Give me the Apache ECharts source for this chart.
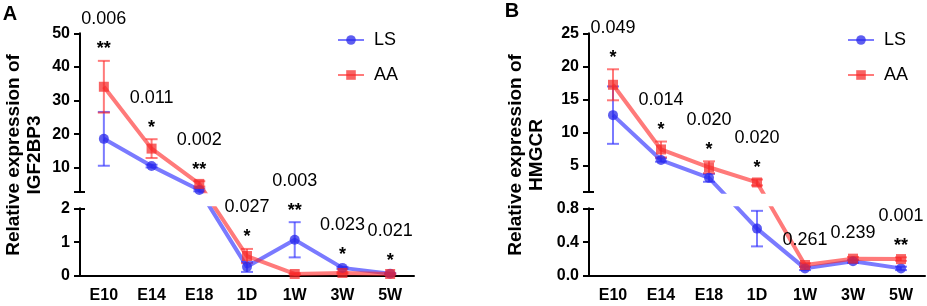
<!DOCTYPE html>
<html>
<head>
<meta charset="utf-8">
<script src="https://cdn.jsdelivr.net/npm/echarts@6/dist/echarts.min.js"></script>
<style>
  html, body { margin: 0; padding: 0; background: #fff; }
  #chart { width: 927px; height: 306px; }
</style>
</head>
<body>
<div id="chart"></div>
<script>
const categories = ['E10', 'E14', 'E18', '1D', '1W', '3W', '5W'];

// Panel A - IGF2BP3
const lsA = [18.6, 10.5, 3.4, 0.27, 1.07, 0.24, 0.07];
const lsAErr = [8.0, 0.4, 0.4, 0.15, 0.52, 0.03, 0.02];
const aaA = [34.1, 15.7, 5.2, 0.59, 0.06, 0.09, 0.06];
const aaAErr = [7.7, 2.8, 0.8, 0.21, 0.02, 0.02, 0.02];
const pA = ['0.006', '0.011', '0.002', '0.027', '0.003', '0.023', '0.021'];
const starsA = ['**', '*', '**', '*', '**', '*', '*'];
const ticksAUpper = [10, 20, 30, 40, 50];
const ticksALower = [0, 1, 2];

// Panel B - HMGCR
const lsB = [12.6, 5.8, 3.1, 0.56, 0.09, 0.175, 0.09];
const lsBErr = [4.35, 0.25, 0.6, 0.21, 0.02, 0.02, 0.02];
const aaB = [17.2, 7.4, 4.7, 2.4, 0.13, 0.205, 0.2];
const aaBErr = [2.35, 1.2, 0.9, 0.45, 0.02, 0.02, 0.02];
const pB = ['0.049', '0.014', '0.020', '0.020', '0.261', '0.239', '0.001'];
const starsB = ['*', '*', '*', '*', '', '', '**'];
const ticksBUpper = [5, 10, 15, 20, 25];
const ticksBLower = [0, 0.4, 0.8];

const FONT = "'Liberation Sans', Arial, sans-serif";
const BLUE_LINE = 'rgba(40,40,255,0.62)';
const BLUE_DOT = 'rgba(40,40,235,0.75)';
const RED_LINE = 'rgba(255,40,40,0.62)';
const RED_DOT = 'rgba(245,40,40,0.72)';

const option = {
  animation: false,
  grid: [], xAxis: [], yAxis: [], series: [], legend: [], graphic: []
};

function errRender(color) {
  return function (params, api) {
    const x = api.value(0), m = api.value(1), e = api.value(2);
    const top = api.coord([x, m + e]);
    const bot = api.coord([x, m - e]);
    const hw = 6;
    const st = { stroke: color, lineWidth: 2 };
    return {
      type: 'group',
      children: [
        { type: 'line', shape: { x1: top[0], y1: top[1], x2: bot[0], y2: bot[1] }, style: st },
        { type: 'line', shape: { x1: top[0] - hw, y1: top[1], x2: top[0] + hw, y2: top[1] }, style: st },
        { type: 'line', shape: { x1: bot[0] - hw, y1: bot[1], x2: bot[0] + hw, y2: bot[1] }, style: st }
      ]
    };
  };
}

function addPanel(p) {
  const gUp = option.grid.length;
  const gLo = gUp + 1;
  option.grid.push({ left: p.left, top: p.upTop, width: p.width, height: p.upBottom - p.upTop });
  option.grid.push({ left: p.left, top: p.loTop, width: p.width, height: p.loBottom - p.loTop });

  const xUp = option.xAxis.length;
  option.xAxis.push({ type: 'category', gridIndex: gUp, data: categories, show: false });
  option.xAxis.push({
    type: 'category', gridIndex: gLo, data: categories,
    axisLine: { lineStyle: { color: '#000', width: 2 } },
    axisTick: { alignWithLabel: true, length: 7, lineStyle: { color: '#000', width: 2 } },
    axisLabel: { color: '#000', fontSize: 16, fontWeight: 'bold', fontFamily: FONT, margin: 12 }
  });

  const yUp = option.yAxis.length;
  const mainY = (grid, min, max, labels, ticks) => ({
    type: 'value', gridIndex: grid, min: min, max: max,
    axisLine: { show: true, lineStyle: { color: '#000', width: 2 } },
    axisTick: { show: true, length: 6, customValues: ticks, lineStyle: { color: '#000', width: 2 } },
    axisLabel: { color: '#000', fontSize: 16, fontWeight: 'bold', fontFamily: FONT, margin: 10,
      customValues: labels, formatter: p.fmt },
    splitLine: { show: false }
  });
  const capY = (grid, min, max, ticks) => ({
    type: 'value', gridIndex: grid, min: min, max: max, position: 'left',
    axisLine: { show: false },
    axisTick: { show: true, inside: true, length: 5, customValues: ticks, lineStyle: { color: '#000', width: 2 } },
    axisLabel: { show: false },
    splitLine: { show: false }
  });
  option.yAxis.push(mainY(gUp, p.upMin, p.upMax, p.upTicks, [p.upMin].concat(p.upTicks)));
  option.yAxis.push(mainY(gLo, 0, p.loMax, p.loTicks, p.loTicks));
  option.yAxis.push(capY(gUp, p.upMin, p.upMax, [p.upMin]));
  option.yAxis.push(capY(gLo, 0, p.loMax, [p.loMax]));

  // broken axis: map a value to its screen row, then back into either segment's scale
  const upH = p.upBottom - p.upTop, loH = p.loBottom - p.loTop;
  const rowOf = v => v > p.loMax
    ? p.upTop + (p.upMax - v) / (p.upMax - p.upMin) * upH
    : p.loBottom - v / p.loMax * loH;
  const asUp = v => p.upMax - (rowOf(v) - p.upTop) / upH * (p.upMax - p.upMin);
  const asLo = v => (p.loBottom - rowOf(v)) / loH * p.loMax;

  const groups = [
    { name: 'LS', vals: p.ls, err: p.lsErr, line: BLUE_LINE, dot: BLUE_DOT, symbol: 'circle', size: 10 },
    { name: 'AA', vals: p.aa, err: p.aaErr, line: RED_LINE, dot: RED_DOT, symbol: 'rect', size: 10 }
  ];
  groups.forEach(g => {
    [[0, asUp], [1, asLo]].forEach(([k, conv]) => {
      const inSeg = v => (k === 0 ? v > p.loMax : v <= p.loMax);
      option.series.push({
        type: 'custom', xAxisIndex: xUp + k, yAxisIndex: yUp + k, silent: true, z: 2,
        renderItem: errRender(g.line),
        encode: { x: 0, y: 1 },
        data: g.vals.map((v, i) => [i, v, g.err[i]]).filter(d => inSeg(d[1]))
      });
      option.series.push({
        type: 'line', name: g.name, xAxisIndex: xUp + k, yAxisIndex: yUp + k,
        clip: true, silent: true, z: 3,
        symbol: g.symbol, symbolSize: g.size, showSymbol: true,
        lineStyle: { color: g.line, width: 4 },
        itemStyle: { color: g.dot, borderWidth: 0 },
        emphasis: { disabled: true },
        data: g.vals.map(conv)
      });
    });
  });

  // significance annotations sit above the highest error bar of each timepoint
  const anchors = categories.map((c, i) => Math.max(p.ls[i] + p.lsErr[i], p.aa[i] + p.aaErr[i]));
  const textLabel = {
    show: true, position: 'top', distance: 0, color: '#000', fontSize: 18, fontFamily: FONT,
    textBorderWidth: 0, opacity: 1
  };
  [0, 1].forEach(k => {
    const items = anchors.map((a, i) => ({ value: [i, a], pv: p.pv[i], st: p.stars[i] }))
      .filter(d => (k === 0 ? d.value[1] > p.loMax : d.value[1] <= p.loMax));
    option.series.push({
      type: 'scatter', xAxisIndex: xUp + k, yAxisIndex: yUp + k, silent: true, clip: false,
      symbolSize: 1, itemStyle: { color: 'rgba(0,0,0,0)' }, z: 5,
      data: items.map(d => ({ value: d.value, pv: d.pv,
        label: { offset: [0, d.st ? -32 : -14] } })),
      label: Object.assign({}, textLabel, { formatter: q => q.data.pv })
    });
    option.series.push({
      type: 'scatter', xAxisIndex: xUp + k, yAxisIndex: yUp + k, silent: true, clip: false,
      symbolSize: 1, itemStyle: { color: 'rgba(0,0,0,0)' }, z: 5,
      data: items.filter(d => d.st).map(d => ({ value: d.value, st: d.st })),
      label: Object.assign({}, textLabel, { offset: [0, -2], fontWeight: 'bold', formatter: q => q.data.st })
    });
  });

  option.legend.push({
    data: ['LS', 'AA'], orient: 'vertical', left: p.legendLeft, top: 26,
    itemWidth: 26, itemHeight: 12, itemGap: 17, selectedMode: false,
    textStyle: { color: '#000', fontSize: 18, fontFamily: FONT, padding: [0, 0, 0, 5] }
  });

  option.graphic.push({
    type: 'text', x: p.titleX, y: 155, rotation: Math.PI / 2,
    style: { text: 'Relative expression of\n' + p.gene, align: 'center', verticalAlign: 'middle',
      font: 'bold 19px ' + FONT, fill: '#000', lineHeight: 21 }
  });
  option.graphic.push({
    type: 'text', x: p.letterX, y: p.letterY,
    style: { text: p.letter, align: 'center', verticalAlign: 'middle',
      font: 'bold 20px ' + FONT, fill: '#000' }
  });
}

addPanel({
  letter: 'A', letterX: 10, letterY: 14, gene: 'IGF2BP3', titleX: 24,
  left: 80, width: 334, upTop: 33.3, upBottom: 191.3, loTop: 208.3, loBottom: 276,
  upMin: 3, upMax: 50, loMax: 2, upTicks: ticksAUpper, loTicks: ticksALower,
  fmt: v => String(v),
  ls: lsA, lsErr: lsAErr, aa: aaA, aaErr: aaAErr, pv: pA, stars: starsA,
  legendLeft: 332
});
addPanel({
  letter: 'B', letterX: 512, letterY: 11, gene: 'HMGCR', titleX: 526,
  left: 589, width: 336, upTop: 33.3, upBottom: 191.7, loTop: 208.3, loBottom: 276,
  upMin: 1, upMax: 25, loMax: 0.8, upTicks: ticksBUpper, loTicks: ticksBLower,
  fmt: v => (v > 1 ? String(v) : v.toFixed(1)),
  ls: lsB, lsErr: lsBErr, aa: aaB, aaErr: aaBErr, pv: pB, stars: starsB,
  legendLeft: 842
});

const chart = echarts.init(document.getElementById('chart'), null, { renderer: 'canvas' });
chart.setOption(option);
</script>
</body>
</html>
